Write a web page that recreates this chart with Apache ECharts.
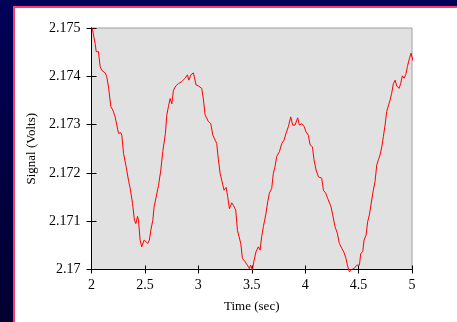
<!DOCTYPE html>
<html>
<head>
<meta charset="utf-8">
<script src="https://cdn.jsdelivr.net/npm/echarts@6/dist/echarts.min.js"></script>
<style>
	html, body { margin: 0; padding: 0; }
	body {
		width: 457px;
		height: 322px;
		overflow: hidden;
		background: linear-gradient(to bottom, #000058, #000030);
		position: relative;
	}
	.panel {
		position: absolute;
		left: 13px;
		top: 6px;
		right: 0;
		bottom: 0;
		background: #ffffff;
		border-left: 2px solid #ff3a6a;
		border-top: 2px solid #ff3a6a;
	}
	#chart {
		position: absolute;
		left: 0;
		top: 0;
		width: 457px;
		height: 322px;
	}
</style>
</head>
<body>
<div class="panel"></div>
<div id="chart"></div>
<script>
// time (sec) and signal (volts)
const times = [
	2.006, 2.034, 2.044, 2.065, 2.081, 2.097, 2.128, 2.143, 2.159, 2.181,
	2.2, 2.221, 2.237, 2.253, 2.274, 2.284, 2.3, 2.324, 2.346, 2.362,
	2.384, 2.402, 2.415, 2.431, 2.44, 2.455, 2.47, 2.493, 2.511, 2.527,
	2.542, 2.555, 2.574, 2.586, 2.605, 2.627, 2.649, 2.667, 2.68, 2.692,
	2.705, 2.72, 2.736, 2.752, 2.767, 2.789, 2.814, 2.845, 2.876, 2.898,
	2.911, 2.93, 2.954, 2.97, 2.979, 3.001, 3.032, 3.048, 3.063, 3.079,
	3.095, 3.116, 3.136, 3.157, 3.172, 3.188, 3.204, 3.219, 3.241, 3.26,
	3.275, 3.291, 3.313, 3.328, 3.35, 3.366, 3.381, 3.397, 3.413, 3.438,
	3.459, 3.478, 3.49, 3.506, 3.522, 3.54, 3.562, 3.578, 3.593, 3.609,
	3.631, 3.65, 3.665, 3.687, 3.702, 3.718, 3.734, 3.759, 3.781, 3.803,
	3.821, 3.843, 3.865, 3.883, 3.905, 3.93, 3.946, 3.968, 3.99, 4.008,
	4.03, 4.046, 4.068, 4.083, 4.102, 4.124, 4.139, 4.155, 4.171, 4.192,
	4.211, 4.227, 4.242, 4.258, 4.279, 4.301, 4.32, 4.342, 4.364, 4.382,
	4.395, 4.414, 4.435, 4.457, 4.483, 4.508, 4.52, 4.539, 4.551, 4.57,
	4.585, 4.601, 4.623, 4.638, 4.654, 4.67, 4.685, 4.701, 4.717, 4.732,
	4.748, 4.763, 4.779, 4.795, 4.81, 4.826, 4.842, 4.857, 4.879, 4.894,
	4.91, 4.926, 4.941, 4.957, 4.976, 4.991, 5.007, 5.022
]
const volts = [
	2.17500, 2.17468, 2.17451, 2.17451, 2.17420, 2.17412, 2.17407, 2.17399, 2.17378, 2.17337,
	2.17330, 2.17316, 2.17299, 2.17282, 2.17283, 2.17278, 2.17240, 2.17213, 2.17185, 2.17168,
	2.17137, 2.17102, 2.17095, 2.17110, 2.17102, 2.17061, 2.17047, 2.17061, 2.17064, 2.17054,
	2.17061, 2.17081, 2.17102, 2.17130, 2.17150, 2.17174, 2.17206, 2.17244, 2.17247, 2.17282,
	2.17320, 2.17337, 2.17354, 2.17343, 2.17371, 2.17380, 2.17385, 2.17389, 2.17396, 2.17403,
	2.17392, 2.17403, 2.17407, 2.17409, 2.17382, 2.17380, 2.17375, 2.17351, 2.17320, 2.17316,
	2.17306, 2.17302, 2.17278, 2.17268, 2.17261, 2.17227, 2.17199, 2.17185, 2.17164, 2.17170,
	2.17151, 2.17126, 2.17138, 2.17133, 2.17123, 2.17081, 2.17068, 2.17054, 2.17023, 2.17016,
	2.17009, 2.17002, 2.17009, 2.16999, 2.17019, 2.17037, 2.17047, 2.17040, 2.17068, 2.17089,
	2.17113, 2.17141, 2.17158, 2.17168, 2.17199, 2.17213, 2.17234, 2.17244, 2.17261, 2.17268,
	2.17282, 2.17296, 2.17316, 2.17299, 2.17299, 2.17314, 2.17299, 2.17302, 2.17296, 2.17285,
	2.17278, 2.17258, 2.17254, 2.17227, 2.17206, 2.17192, 2.17196, 2.17189, 2.17164, 2.17158,
	2.17147, 2.17150, 2.17130, 2.17113, 2.17089, 2.17075, 2.17054, 2.17044, 2.17035, 2.17023,
	2.17009, 2.16995, 2.17000, 2.17002, 2.17009, 2.17009, 2.17033, 2.17037, 2.17061, 2.17071,
	2.17099, 2.17113, 2.17144, 2.17164, 2.17182, 2.17216, 2.17227, 2.17237, 2.17254, 2.17275,
	2.17299, 2.17327, 2.17330, 2.17351, 2.17365, 2.17385, 2.17392, 2.17380, 2.17375, 2.17385,
	2.17401, 2.17396, 2.17403, 2.17420, 2.17437, 2.17448, 2.17434, 2.17427
]
const yTickLabels = ['2.17', '2.171', '2.172', '2.173', '2.174', '2.175']
const xTickLabels = ['2', '2.5', '3', '3.5', '4', '4.5', '5']

const font = 'Liberation Serif, Times New Roman, serif'
const myChart = echarts.init(document.getElementById('chart'), null, { renderer: 'canvas' })

const yBase = {
	type: 'value',
	min: 2.17,
	max: 2.175,
	interval: 0.001,
	position: 'left',
	splitLine: { show: false },
	axisLine: { show: true, lineStyle: { color: '#000', width: 1 } },
}
const xBase = {
	type: 'value',
	min: 2,
	max: 5,
	interval: 0.5,
	position: 'bottom',
	splitLine: { show: false },
	axisLine: { show: true, lineStyle: { color: '#000', width: 1 } },
}

const option = {
	animation: false,
	backgroundColor: 'transparent',
	grid: {
		left: 91.5,
		right: 45,
		top: 28,
		bottom: 52.5,
		show: true,
		backgroundColor: '#e1e1e1',
		borderColor: '#a0a0a0',
		borderWidth: 1,
	},
	xAxis: [
		{
			...xBase,
			name: 'Time (sec)',
			nameLocation: 'middle',
			nameGap: 31,
			nameTextStyle: { fontFamily: font, fontSize: 13, color: '#000' },
			axisTick: { show: true, length: 4, lineStyle: { color: '#000' } },
			axisLabel: {
				fontFamily: font,
				fontSize: 14,
				color: '#000',
				margin: 9,
				formatter: (v) => xTickLabels[Math.round((v - 2) / 0.5)],
			},
		},
		{
			...xBase,
			axisTick: { show: true, inside: true, length: 4, lineStyle: { color: '#000' } },
			axisLabel: { show: false },
		},
	],
	yAxis: [
		{
			...yBase,
			name: 'Signal (Volts)',
			nameLocation: 'middle',
			nameGap: 51,
			nameTextStyle: { fontFamily: font, fontSize: 13, color: '#000' },
			axisTick: { show: true, length: 5, lineStyle: { color: '#000' } },
			axisLabel: {
				fontFamily: font,
				fontSize: 14,
				color: '#000',
				margin: 11,
				formatter: (v) => yTickLabels[Math.round((v - 2.17) / 0.001)],
			},
		},
		{
			...yBase,
			axisTick: { show: true, inside: true, length: 5, lineStyle: { color: '#000' } },
			axisLabel: { show: false },
		},
	],
	series: [
		{
			type: 'line',
			xAxisIndex: 0,
			yAxisIndex: 0,
			data: times.map((t, i) => [t, volts[i]]),
			showSymbol: false,
			clip: false,
			lineStyle: { color: '#ff0000', width: 1 },
		},
	],
}

myChart.setOption(option)
</script>
</body>
</html>
